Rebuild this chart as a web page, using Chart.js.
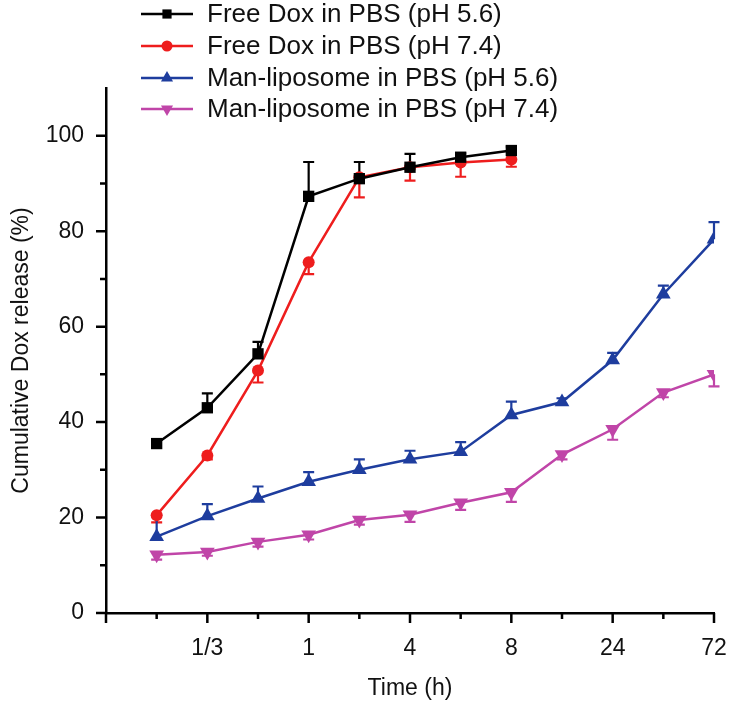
<!DOCTYPE html>
<html>
<head>
<meta charset="utf-8">
<script src="https://cdn.jsdelivr.net/npm/chart.js@4.4.1/dist/chart.umd.min.js"></script>
<style>
  html, body { margin: 0; padding: 0; background: #fff; }
  #wrap { width: 729px; height: 704px; }
</style>
</head>
<body>
<div id="wrap"><canvas id="c" width="729" height="704"></canvas></div>
<script>
// x positions are evenly spaced sampling points (time axis is categorical-like)
const xPos = [1, 2, 3, 4, 5, 6, 7, 8, 9, 10, 11, 12];
const xTickLabels = ["", "", "1/3", "", "1", "", "4", "", "8", "", "24", "", "72"];

const freeDox56 = [35.5, 43, 54.3, 87.3, 91, 93.4, 95.5, 96.9];
const freeDox56Err = [0.8, 3, 2.5, 7.2, 3.5, 2.8, 0.8, 0.8];
const freeDox74 = [20.5, 33, 50.8, 73.5, 91.3, 93.4, 94.4, 95];
const freeDox74Err = [1.5, 0.8, 2.5, 2.5, 4.2, 2.8, 3, 1.5];
const manLipo56 = [16, 20.3, 24, 27.5, 30, 32.2, 33.8, 41.5, 44.2, 53, 66.8, 78.3];
const manLipo56Err = [4.5, 2.5, 2.5, 2, 2.2, 1.8, 2, 2.8, 0.8, 1.5, 1.8, 3.6];
const manLipo74 = [12.2, 12.8, 14.9, 16.4, 19.5, 20.6, 23.1, 25.3, 33.2, 38.5, 46.2, 50];
const manLipo74Err = [1, 0.8, 1, 1, 1, 1.5, 1.5, 2, 1, 2.2, 1, 2.5];

const FONT = "'Liberation Sans', Arial, sans-serif";

const series = [
  { label: "Free Dox in PBS (pH 5.6)", values: freeDox56, err: freeDox56Err, dir: 1,
    color: "#000000", pointStyle: "rect", radius: 8, legendRadius: 6.5, rotation: 0 },
  { label: "Free Dox in PBS (pH 7.4)", values: freeDox74, err: freeDox74Err, dir: -1,
    color: "#ee1d1d", pointStyle: "circle", radius: 6, legendRadius: 5.5, rotation: 0 },
  { label: "Man-liposome in PBS (pH 5.6)", values: manLipo56, err: manLipo56Err, dir: 1,
    color: "#1e3d9e", pointStyle: "triangle", radius: 8.5, legendRadius: 7, rotation: 0 },
  { label: "Man-liposome in PBS (pH 7.4)", values: manLipo74, err: manLipo74Err, dir: -1,
    color: "#c045a8", pointStyle: "triangle", radius: 8.5, legendRadius: 7, rotation: 180 }
];

// ── error bars (one-sided, as in the original) ─────────────
const errorBars = {
  id: "errorBars",
  beforeDatasetsDraw(chart) {
    const ctx = chart.ctx;
    const ys = chart.scales.y;
    series.forEach((s, i) => {
      const meta = chart.getDatasetMeta(i);
      ctx.save();
      ctx.strokeStyle = s.color;
      ctx.lineWidth = 2.2;
      meta.data.forEach((pt, j) => {
        const y1 = ys.getPixelForValue(s.values[j] + s.dir * s.err[j]);
        ctx.beginPath();
        ctx.moveTo(pt.x, pt.y);
        ctx.lineTo(pt.x, y1);
        ctx.moveTo(pt.x - 5.5, y1);
        ctx.lineTo(pt.x + 5.5, y1);
        ctx.stroke();
      });
      ctx.restore();
    });
  }
};

// ── outward major/minor tick marks ─────────────────────────
const tickMarks = {
  id: "tickMarks",
  afterDraw(chart) {
    const ctx = chart.ctx;
    const { left, bottom } = chart.chartArea;
    const xs = chart.scales.x, ys = chart.scales.y;
    ctx.save();
    ctx.strokeStyle = "#000";
    ctx.lineWidth = 2.5;
    ctx.beginPath();
    for (let v = 0; v <= 12; v++) {
      const px = xs.getPixelForValue(v);
      const len = v % 2 === 0 ? 10 : 6;
      ctx.moveTo(px, bottom);
      ctx.lineTo(px, bottom + len);
    }
    for (let v = 0; v <= 100; v += 10) {
      const py = ys.getPixelForValue(v);
      const len = v % 20 === 0 ? 10 : 6;
      ctx.moveTo(left, py);
      ctx.lineTo(left - len, py);
    }
    ctx.stroke();
    ctx.restore();
  }
};

// ── legend: line + marker + label ──────────────────────────
const lineLegend = {
  id: "lineLegend",
  afterDraw(chart) {
    const ctx = chart.ctx;
    const rows = [14, 46, 78, 109];
    ctx.save();
    series.forEach((s, i) => {
      const y = rows[i];
      ctx.strokeStyle = s.color;
      ctx.fillStyle = s.color;
      ctx.lineWidth = 2.5;
      ctx.beginPath();
      ctx.moveTo(141, y);
      ctx.lineTo(193, y);
      ctx.stroke();
      Chart.helpers.drawPoint(ctx, {
        pointStyle: s.pointStyle, rotation: s.rotation, radius: s.legendRadius, borderWidth: 0
      }, 167, y);
      ctx.fillStyle = "#111";
      ctx.font = "26px " + FONT;
      ctx.textBaseline = "middle";
      ctx.textAlign = "left";
      ctx.fillText(s.label, 207, y + 1);
    });
    ctx.restore();
  }
};

new Chart(document.getElementById("c"), {
  type: "line",
  data: {
    datasets: series.map(s => ({
      label: s.label,
      data: s.values.map((v, i) => ({ x: xPos[i], y: v })),
      borderColor: s.color,
      backgroundColor: s.color,
      borderWidth: 2.5,
      pointStyle: s.pointStyle,
      pointRotation: s.rotation,
      pointRadius: s.radius,
      pointBorderWidth: 0,
      tension: 0
    }))
  },
  options: {
    responsive: false,
    animation: false,
    devicePixelRatio: 1,
    layout: { padding: { top: 88, right: 15, left: 0, bottom: 0 } },
    plugins: { legend: { display: false }, tooltip: { enabled: false } },
    scales: {
      x: {
        type: "linear", min: 0, max: 12,
        afterFit: s => { s.height = 91; s.paddingLeft = 0; s.paddingRight = 0; },
        grid: { drawOnChartArea: false, drawTicks: false },
        border: { color: "#000", width: 2.5 },
        ticks: {
          stepSize: 1, autoSkip: false, maxRotation: 0, padding: 22,
          color: "#111", font: { size: 23, family: FONT },
          callback: v => xTickLabels[v] ?? ""
        },
        title: {
          display: true, text: "Time (h)", color: "#111",
          font: { size: 23, family: FONT }, padding: { top: 0, bottom: 2 }
        }
      },
      y: {
        min: 0, max: 110,
        afterFit: s => { s.width = 106; s.paddingTop = 0; s.paddingBottom = 0; },
        grid: { drawOnChartArea: false, drawTicks: false },
        border: { color: "#000", width: 2.5 },
        ticks: {
          stepSize: 10, autoSkip: false, padding: 22,
          color: "#111", font: { size: 23, family: FONT },
          callback: v => (v % 20 === 0 && v <= 100 ? v : "")
        },
        title: {
          display: true, text: "Cumulative Dox release (%)", color: "#111",
          font: { size: 23, family: FONT }, padding: { top: 8, bottom: 0 }
        }
      }
    }
  },
  plugins: [errorBars, tickMarks, lineLegend]
});
</script>
</body>
</html>
